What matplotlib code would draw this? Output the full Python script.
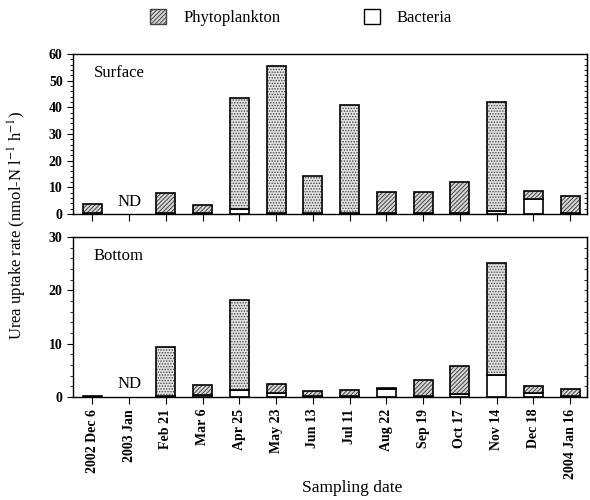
import numpy as np
import matplotlib
matplotlib.use("Agg")
from matplotlib import pyplot as plt
from matplotlib.patches import Patch
from matplotlib.ticker import MultipleLocator

plt.rcParams['font.family'] = ['Liberation Serif', 'DejaVu Serif']
plt.rcParams['mathtext.fontset'] = 'stix'
plt.rcParams['hatch.linewidth'] = 0.7

dates = ['2002 Dec 6', '2003 Jan', 'Feb 21', 'Mar 6', 'Apr 25', 'May 23', 'Jun 13',
         'Jul 11', 'Aug 22', 'Sep 19', 'Oct 17', 'Nov 14', 'Dec 18', '2004 Jan 16']

# surface layer (nmol-N l-1 h-1), Jan 2003 not determined
surf_bact = [0.2, 0, 0.5, 0.3, 1.9, 0.5, 0.5, 0.5, 0.3, 0.3, 0.5, 1.2, 5.7, 0.3]
surf_phyto = [3.5, 0, 7.2, 3.0, 41.7, 55.1, 13.7, 40.5, 7.9, 7.9, 11.4, 40.7, 2.9, 6.4]

# bottom layer
bot_bact = [0.05, 0, 0.2, 0.3, 1.4, 0.8, 0.2, 0.2, 1.5, 0.2, 0.5, 4.1, 0.7, 0.2]
bot_phyto = [0.2, 0, 9.2, 1.9, 16.7, 1.6, 0.9, 1.2, 0.2, 3.0, 5.3, 21.0, 1.3, 1.3]

nd_index = 1

# bars that look stippled rather than hatched in the scan
stipple_surf = [4, 5, 6, 7, 11]
stipple_bot = [2, 4, 11]

fig = plt.figure(figsize=(5.9, 5.0), dpi=100)
ax1 = fig.add_axes([0.124, 0.572, 0.871, 0.320])
ax2 = fig.add_axes([0.124, 0.206, 0.871, 0.320])

x = np.arange(len(dates))
w = 0.52


def draw_panel(ax, bact, phyto, stipple, ymax, name, nd_y):
    bact = np.array(bact)
    phyto = np.array(phyto)
    for i in range(len(x)):
        if i == nd_index:
            continue
        if i in stipple:
            hatch, fc = '......', '#e4e4e4'
        else:
            hatch, fc = '////////', '#d8d8d8'
        ax.bar(x[i], bact[i], w, color='white', edgecolor='black', linewidth=1.2, zorder=2)
        ax.bar(x[i], phyto[i], w, bottom=bact[i], color=fc, edgecolor='#444444',
               hatch=hatch, linewidth=0, zorder=2)
        ax.bar(x[i], phyto[i], w, bottom=bact[i], fill=False, edgecolor='black',
               linewidth=1.2, zorder=3)
    ax.text(nd_index, nd_y, 'ND', ha='center', va='bottom', fontsize=12)
    ax.text(0.04, 0.93, name, transform=ax.transAxes, ha='left', va='top', fontsize=12)
    ax.set_xlim(-0.52, 13.46)
    ax.set_ylim(0, ymax)
    ax.yaxis.set_major_locator(MultipleLocator(10))
    ax.yaxis.set_minor_locator(MultipleLocator(2))
    ax.set_xticks(x)
    ax.tick_params(axis='x', direction='out', length=5, width=0.8)
    ax.tick_params(axis='y', which='major', direction='out', length=4, width=0.8, labelsize=10)
    ax.tick_params(axis='y', which='minor', direction='out', length=2, width=0.6)
    for lab in ax.get_yticklabels():
        lab.set_fontweight('bold')
    # small inward ticks on the right frame
    sec = ax.secondary_yaxis('right')
    sec.yaxis.set_major_locator(MultipleLocator(10))
    sec.yaxis.set_minor_locator(MultipleLocator(2))
    sec.tick_params(which='both', direction='in', length=2, width=0.6, labelright=False)
    for s in ax.spines.values():
        s.set_linewidth(1.0)


draw_panel(ax1, surf_bact, surf_phyto, stipple_surf, 60, 'Surface', 1.5)
draw_panel(ax2, bot_bact, bot_phyto, stipple_bot, 30, 'Bottom', 1.0)

ax1.set_xticklabels([])
ax2.set_xticklabels(dates, rotation=90, fontsize=10, fontweight='bold')

fig.text(0.03, 0.55, r'Urea uptake rate (nmol-N l$^{-1}$ h$^{-1}$)',
         rotation=90, ha='center', va='center', fontsize=12)
fig.text(0.597, 0.025, 'Sampling date', ha='center', va='center', fontsize=12.5)

handles = [Patch(facecolor='#d8d8d8', edgecolor='#444444', hatch='////////', label='Phytoplankton'),
           Patch(facecolor='white', edgecolor='black', label='Bacteria')]
leg = fig.legend(handles=handles, loc='center', bbox_to_anchor=(0.51, 0.965), ncol=2,
                 frameon=False, fontsize=12, handlelength=1.0, handleheight=1.0,
                 columnspacing=5.0, handletextpad=1.0)

fig.savefig('out.png', dpi=100)
